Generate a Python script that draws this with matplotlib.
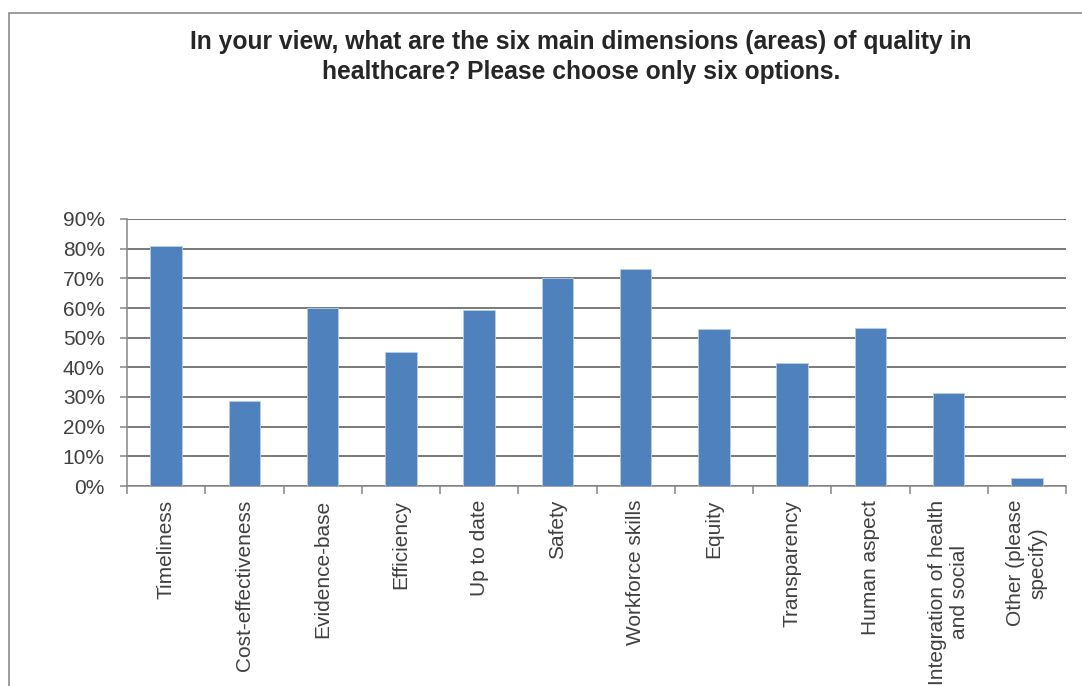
import matplotlib.pyplot as plt
from matplotlib.patches import Rectangle

plt.rcParams['font.family'] = ['Liberation Sans', 'DejaVu Sans']

# survey answers, share of respondents (%)
categories = ['Timeliness', 'Cost-effectiveness', 'Evidence-base', 'Efficiency',
              'Up to date', 'Safety', 'Workforce skills', 'Equity', 'Transparency',
              'Human aspect', 'Integration of health\nand social', 'Other (please\nspecify)']
values = [80.8, 28.7, 59.9, 45.3, 59.4, 70.1, 73.3, 52.9, 41.6, 53.4, 31.3, 2.6]
yticks = [0, 10, 20, 30, 40, 50, 60, 70, 80, 90]

fig = plt.figure(figsize=(10.82, 6.86), dpi=100)

# chart area border (cut off at right and bottom like the screenshot)
fig.patches.append(Rectangle((9 / 1082, -0.1), 1.2, 1 - 13 / 686 + 0.1,
                             transform=fig.transFigure, fill=False,
                             edgecolor='#8c8c8c', lw=1.2))

ax = fig.add_axes([127 / 1082, 1 - 486 / 686, (1066 - 127) / 1082, (486 - 219) / 686])

x = range(len(categories))
ax.bar(x, values, width=0.4, color='#4f81bd', edgecolor='#b9cde5', linewidth=0.6, zorder=3)

ax.set_xlim(-0.5, len(categories) - 0.5)
ax.set_ylim(0, 90)
ax.set_yticks(yticks)
ax.set_yticklabels([f'{t}%' for t in yticks], fontsize=15, color='#404040')
ax.yaxis.grid(True, color='#555555', lw=1.1, zorder=0)

ax.set_xticks(list(x))
ax.set_xticklabels(categories, rotation=90, fontsize=15, color='#404040',
                   ha='center', va='top', multialignment='center')
ax.tick_params(axis='x', length=0, pad=10)
# tick marks between categories
ax.set_xticks([i - 0.5 for i in range(len(categories) + 1)], minor=True)
ax.tick_params(axis='x', which='minor', length=6, color='#868686', width=1.1)
ax.tick_params(axis='y', length=5, color='#868686', width=1.1, pad=11)

for s in ['top', 'right']:
    ax.spines[s].set_visible(False)
for s in ['left', 'bottom']:
    ax.spines[s].set_color('#868686')
    ax.spines[s].set_linewidth(1.1)

fig.text(581 / 1082, 1 - 57 / 686,
         'In your view, what are the six main dimensions (areas) of quality in\n'
         'healthcare? Please choose only six options.',
         ha='center', va='center', fontsize=17.7, fontweight='bold', color='#262626',
         linespacing=1.32)

fig.savefig('out.png', dpi=100)
